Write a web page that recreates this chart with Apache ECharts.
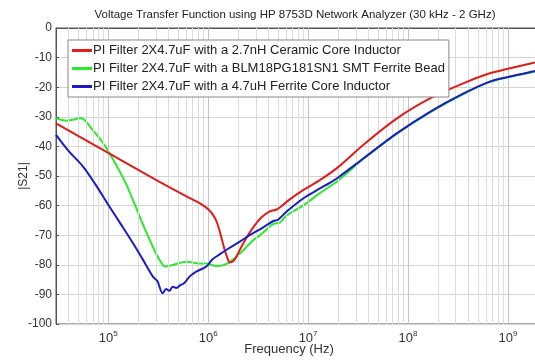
<!DOCTYPE html>
<html>
<head>
<meta charset="utf-8">
<script src="https://cdn.jsdelivr.net/npm/echarts@6/dist/echarts.min.js"></script>
<style>
  html, body { margin: 0; padding: 0; background: #fff; }
  #chart { width: 535px; height: 360px; }
</style>
</head>
<body>
<div id="chart"></div>
<script>
var freqRed = [3e4, 1e5, 3e5, 6e5, 8.5e5, 1e6, 1.1e6, 1.2e6, 1.3e6, 1.45e6, 1.55e6, 1.65e6, 1.8e6, 2e6,
    2.4e6, 2.8e6, 3.4e6, 4.1e6, 4.8e6, 5.5e6, 6.5e6, 9e6, 1.31e7, 2e7, 3.56e7, 7.7e7, 1.66e8, 3.57e8,
    6.6e8, 1.05e9, 1.73e9, 2e9];
var dbRed = [-32.2, -42.2, -51.3, -56.8, -59.5, -61.2, -62.8, -65, -68.5, -74.5, -77.5, -79.2, -78.7, -76,
    -71, -67.5, -64, -62, -61.4, -60, -58, -54.7, -51.4, -47, -39.5, -30.6, -23.8, -18.7,
    -15.3, -13.6, -11.9, -11.5];

var freqGreen = [3e4, 3.8e4, 4.6e4, 5.2e4, 5.8e4, 7e4, 8.5e4, 1.03e5, 1.5e5, 2.2e5, 3e5, 3.5e5, 3.7e5,
    4.4e5, 6e5, 7e5, 8.2e5, 9.6e5, 1.2e6, 1.4e6, 1.65e6, 2.07e6, 2.8e6, 3.3e6, 4.5e6, 5.2e6, 6e6,
    8.9e6, 1.31e7, 2e7, 3.6e7, 7.7e7, 1.66e8, 3.6e8, 6.6e8, 1.05e9, 1.7e9, 2e9];
var dbGreen = [-30.5, -31.3, -30.9, -30.4, -31.1, -34.5, -38, -42.3, -52.5, -66, -76.1, -80, -80.6,
    -80.1, -79, -79.2, -79.6, -79.6, -80.4, -80.2, -79, -76.3, -71.8, -70, -66.2, -65.8, -63.5,
    -60, -55.8, -51.5, -44.2, -35.8, -28.5, -22.3, -18.2, -16.5, -15, -14.5];

var freqBlue = [3e4, 4e4, 5.6e4, 7.5e4, 1.03e5, 1.35e5, 1.77e5, 2.2e5, 2.8e5, 3.1e5, 3.5e5, 3.8e5, 4.1e5,
    4.4e5, 4.8e5, 5.3e5, 5.6e5, 6e5, 6.5e5, 7.6e5, 9.6e5, 1.1e6, 1.3e6, 1.6e6, 2.07e6, 2.6e6, 3.3e6,
    4.5e6, 5e6, 6.1e6, 9e6, 1.3e7, 1.65e7, 2e7, 3.6e7, 7.7e7, 1.66e8, 3.6e8, 6.6e8, 1.05e9, 1.7e9, 2e9];
var dbBlue = [-36.1, -41.5, -46.8, -53, -60.4, -66.5, -72.7, -78, -84, -85.5, -89.6, -88.2, -88.8,
    -87.4, -87.8, -86.8, -86.5, -85.5, -84, -82.3, -80.6, -78.2, -76.5, -74.5, -72.2, -70, -68,
    -65.2, -64.8, -62, -57.5, -54.3, -52.3, -50.5, -44, -35.6, -28.3, -22.1, -18.1, -16.4, -14.8, -14.3];

var seriesNames = [
    'PI Filter 2X4.7uF with a 2.7nH Ceramic Core Inductor',
    'PI Filter 2X4.7uF with a BLM18PG181SN1 SMT Ferrite Bead',
    'PI Filter 2X4.7uF with a 4.7uH Ferrite Core Inductor'
];
var colors = ['#e01c1c', '#2ee82e', '#1c1cc4'];

function pairs(xs, ys) {
    return xs.map(function (x, i) { return [x, ys[i]]; });
}

// log grid lines: 2..9 x 10^n (minor) and 10^n (major)
var minorLines = [], majorLines = [];
for (var e = 4; e <= 9; e++) {
    for (var m = 1; m <= 9; m++) {
        var v = m * Math.pow(10, e);
        if (v <= 3e4 || v >= 2e9) continue;
        if (m === 1) majorLines.push({xAxis: v});
        else minorLines.push({xAxis: v});
    }
}

var chart = echarts.init(document.getElementById('chart'));

var option = {
    animation: false,
    textStyle: { fontFamily: 'Liberation Sans, Arial, sans-serif' },
    title: {
        text: 'Voltage Transfer Function using HP 8753D Network Analyzer (30 kHz - 2 GHz)',
        left: 290, top: 4, textAlign: 'center',
        textStyle: { fontSize: 11.5, fontWeight: 'normal', color: '#222' }
    },
    legend: {
        left: 68, top: 40, z: 20,
        orient: 'vertical',
        data: seriesNames,
        icon: 'rect',
        itemWidth: 20, itemHeight: 3,
        itemGap: 5,
        padding: [4, 4, 4, 4],
        backgroundColor: '#fff',
        borderColor: '#888', borderWidth: 1,
        textStyle: { fontSize: 13, color: '#222', padding: [0, 0, 0, -4] }
    },
    grid: {
        left: 56, top: 28, width: 482, height: 296,
        outerBoundsMode: 'none', containLabel: false,
        show: true, borderColor: '#555', borderWidth: 1
    },
    xAxis: {
        type: 'log', logBase: 10, min: 3e4, max: 2e9,
        name: 'Frequency (Hz)', nameLocation: 'middle', nameGap: 19, nameMoveOverlap: false,
        nameTextStyle: { fontSize: 13, color: '#333', padding: [0, 16, 0, 0] },
        axisLine: { lineStyle: { color: '#555' } },
        axisTick: { show: false },
        splitLine: { show: false },
        axisLabel: {
            color: '#333', margin: 6,
            showMinLabel: false, showMaxLabel: false,
            formatter: function (v) {
                var e = Math.log10(v);
                if (Math.abs(e - Math.round(e)) < 1e-6) return '{b|10}{s|' + Math.round(e) + '}';
                return '';
            },
            rich: {
                b: { fontSize: 13, color: '#333' },
                s: { fontSize: 8, color: '#333', verticalAlign: 'top', padding: [0, 0, 8, 0] }
            }
        }
    },
    yAxis: {
        type: 'value', min: -100, max: 0, interval: 10,
        name: '|S21|', nameLocation: 'middle', nameGap: 26, nameMoveOverlap: false,
        nameTextStyle: { fontSize: 12, color: '#333' },
        axisLine: { show: true, lineStyle: { color: '#555' } },
        axisTick: { show: true, inside: true, length: 3, lineStyle: { color: '#555' } },
        splitLine: { show: true, lineStyle: { color: '#d4d4d4', width: 1 } },
        axisLabel: { color: '#333', fontSize: 12, margin: 4 }
    },
    series: [
        {
            name: seriesNames[0], type: 'line', data: pairs(freqRed, dbRed),
            showSymbol: false, smooth: 0.3, z: 5,
            lineStyle: { color: colors[0], width: 2 }, itemStyle: { color: colors[0] },
            markLine: {
                silent: true, symbol: 'none', label: { show: false }, animation: false,
                lineStyle: { color: '#dcdcdc', width: 1, type: 'solid' },
                data: minorLines
            }
        },
        {
            name: seriesNames[1], type: 'line', data: pairs(freqGreen, dbGreen),
            showSymbol: false, smooth: 0.3, z: 4,
            lineStyle: { color: colors[1], width: 2 }, itemStyle: { color: colors[1] },
            markLine: {
                silent: true, symbol: 'none', label: { show: false }, animation: false,
                lineStyle: { color: '#c4c4c4', width: 1, type: 'solid' },
                data: majorLines
            }
        },
        {
            name: seriesNames[2], type: 'line', data: pairs(freqBlue, dbBlue),
            showSymbol: false, smooth: 0.3, z: 6,
            lineStyle: { color: colors[2], width: 2 }, itemStyle: { color: colors[2] }
        }
    ]
};
chart.setOption(option, true);
</script>
</body>
</html>
